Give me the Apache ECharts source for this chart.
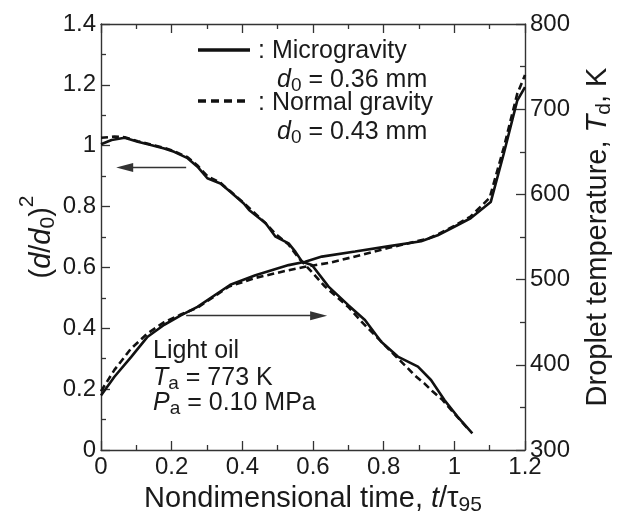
<!DOCTYPE html>
<html><head><meta charset="utf-8">
<script src="https://cdn.jsdelivr.net/npm/echarts@6/dist/echarts.min.js"></script>
<style>html,body{margin:0;padding:0;background:#fff}#c{width:623px;height:524px}</style>
</head><body><div id="c"></div>
<script>
// ---- data ----
const tDiamMicro = [0,0.03,0.067,0.104,0.141,0.179,0.207,0.245,0.273,0.301,0.338,0.366,0.404,0.419,0.466,0.494,0.531,0.55,0.569,0.597,0.644,0.7,0.747,0.793,0.84,0.897,0.934,0.972,1.009,1.051];
const diamMicro  = [1.005,1.019,1.026,1.013,1.002,0.991,0.98,0.959,0.931,0.893,0.876,0.849,0.81,0.789,0.745,0.701,0.679,0.652,0.619,0.608,0.537,0.476,0.427,0.356,0.307,0.274,0.23,0.164,0.11,0.055];
const tDiamNormal = [0,0.038,0.067,0.104,0.141,0.179,0.207,0.245,0.273,0.301,0.338,0.366,0.404,0.466,0.494,0.531,0.56,0.587,0.634,0.7,0.742,0.79,0.84,0.864,0.887,0.915,0.939,0.967,1.0,1.037];
const diamNormal  = [1.026,1.03,1.028,1.015,1.004,0.993,0.982,0.962,0.935,0.9,0.878,0.85,0.812,0.745,0.71,0.675,0.63,0.597,0.537,0.47,0.416,0.36,0.301,0.274,0.246,0.219,0.192,0.164,0.12,0.072];
const tTempMicro = [0,0.038,0.085,0.132,0.179,0.226,0.273,0.366,0.437,0.531,0.578,0.625,0.719,0.812,0.906,0.953,1.0,1.046,1.103,1.14,1.178,1.2];
const tempMicro  = [364,386,409,433,447,458,468,494,505,517,521,527,533,539,545,552,562,572,591,648,710,726];
const tTempNormal = [0,0.038,0.085,0.132,0.179,0.226,0.273,0.363,0.437,0.531,0.578,0.65,0.737,0.812,0.925,0.953,1.0,1.046,1.1,1.14,1.178,1.2];
const tempNormal  = [369,394,419,437,450,459,467,492,502,511,515,520,529,537,548,553,563,574,596,655,718,740];
// arrows: [tail t, head t, level]
const arrowDiam = [0.241, 0.067, 0.928];
const arrowTemp = [0.241, 0.616, 457.6];
// axis ranges / ticks
const xRange = [0, 1.2, 0.2];
const yLeftRange = [0, 1.4, 0.2];
const yRightRange = [300, 800, 100];

const FF = '"Liberation Sans", Arial, Helvetica, sans-serif';
const TXT = '#1a1a1a';
const zip = (a, b) => a.map((v, i) => [v, b[i]]);

// rich text styles (zrender-style for graphic)
const gRich = {
  n: {fontSize: 25, fontFamily: FF, fill: TXT},
  i: {fontSize: 25, fontFamily: FF, fill: TXT, fontStyle: 'italic'},
  s: {fontSize: 19, fontFamily: FF, fill: TXT, padding: [12, 0, 0, 0]}
};
// ECharts-style rich for axis names
const aRich = {
  n: {fontSize: 29, fontFamily: FF, color: TXT},
  i: {fontSize: 29, fontFamily: FF, color: TXT, fontStyle: 'italic'},
  s: {fontSize: 21, fontFamily: FF, color: TXT, padding: [13, 0, 0, 0]},
  p: {fontSize: 21, fontFamily: FF, color: TXT, padding: [0, 0, 28, 0]}
};

const axisLine = {show: true, onZero: false, lineStyle: {color: '#333', width: 1.4}};
const tick = {show: true, inside: true, length: 9, lineStyle: {color: '#333', width: 1.3}};
const minor = {show: true, splitNumber: 2, length: 5, lineStyle: {color: '#333', width: 1.3}};
const lbl = {fontSize: 24, fontFamily: FF, color: TXT};

const chart = echarts.init(document.getElementById('c'), null, {renderer: 'canvas'});
const markStyle = {color: '#333', width: 1.3, type: 'solid'};
chart.setOption({
  animation: false,
  backgroundColor: '#fff',
  grid: {left: 101, right: 95, top: 24, bottom: 74},
  xAxis: [
    {type: 'value', min: xRange[0], max: xRange[1], interval: xRange[2], position: 'bottom',
     axisLine, axisTick: tick, minorTick: minor, splitLine: {show: false},
     axisLabel: Object.assign({margin: 5}, lbl),
     name: '{n|Nondimensional time, }{i|t}{n|/τ}{s|95}', nameLocation: 'middle', nameGap: 32,
     nameTextStyle: {rich: aRich}},
    {type: 'value', min: xRange[0], max: xRange[1], interval: xRange[2], position: 'top',
     axisLine, axisTick: tick, minorTick: minor, splitLine: {show: false}, axisLabel: {show: false}}
  ],
  yAxis: [
    {type: 'value', min: yLeftRange[0], max: yLeftRange[1], interval: yLeftRange[2], position: 'left',
     axisLine, axisTick: tick, minorTick: minor, splitLine: {show: false},
     axisLabel: Object.assign({margin: 5}, lbl),
     name: '{n|(}{i|d}{n|/}{i|d}{s|0}{n|)}{p|2}', nameLocation: 'middle', nameGap: 35, nameRotate: 90,
     nameMoveOverlap: false,
     nameTextStyle: {rich: aRich}},
    {type: 'value', min: yRightRange[0], max: yRightRange[1], interval: yRightRange[2], position: 'right',
     axisLine, axisTick: tick, minorTick: minor, splitLine: {show: false},
     axisLabel: Object.assign({margin: 5}, lbl),
     name: '{n|Droplet temperature, }{i|T}{s|d}{n|, K}', nameLocation: 'middle', nameGap: 56, nameRotate: 90,
     nameTextStyle: {rich: aRich}}
  ],
  series: [
    {type: 'line', xAxisIndex: 0, yAxisIndex: 0, data: zip(tDiamMicro, diamMicro), showSymbol: false,
     lineStyle: {color: '#111', width: 2.6}, z: 3,
     markLine: {silent: true, symbol: ['none', 'triangle'], symbolSize: [9, 17], label: {show: false},
       lineStyle: markStyle, emphasis: {disabled: true},
       data: [[{coord: [arrowDiam[0], arrowDiam[2]]}, {coord: [arrowDiam[1], arrowDiam[2]]}]]}},
    {type: 'line', xAxisIndex: 0, yAxisIndex: 0, data: zip(tDiamNormal, diamNormal), showSymbol: false,
     lineStyle: {color: '#111', width: 2.6, type: [7, 4]}, z: 2},
    {type: 'line', xAxisIndex: 0, yAxisIndex: 1, data: zip(tTempMicro, tempMicro), showSymbol: false,
     lineStyle: {color: '#111', width: 2.6}, z: 3,
     markLine: {silent: true, symbol: ['none', 'triangle'], symbolSize: [9, 17], label: {show: false},
       lineStyle: markStyle, emphasis: {disabled: true},
       data: [[{coord: [arrowTemp[0], arrowTemp[2]]}, {coord: [arrowTemp[1], arrowTemp[2]]}]]}},
    {type: 'line', xAxisIndex: 0, yAxisIndex: 1, data: zip(tTempNormal, tempNormal), showSymbol: false,
     lineStyle: {color: '#111', width: 2.6, type: [7, 4]}, z: 2}
  ],
  graphic: [
    {type: 'line', shape: {x1: 198, y1: 50, x2: 250, y2: 50}, style: {stroke: '#111', lineWidth: 3.5}},
    {type: 'line', shape: {x1: 198, y1: 101, x2: 250, y2: 101}, style: {stroke: '#111', lineWidth: 3.5, lineDash: [8, 5]}},
    {type: 'text', x: 258, y: 51, style: {text: '{n|: Microgravity}', rich: gRich, verticalAlign: 'middle'}},
    {type: 'text', x: 277, y: 80, style: {text: '{i|d}{s|0}{n| = 0.36 mm}', rich: gRich, verticalAlign: 'middle'}},
    {type: 'text', x: 258, y: 103, style: {text: '{n|: Normal gravity}', rich: gRich, verticalAlign: 'middle'}},
    {type: 'text', x: 277, y: 132, style: {text: '{i|d}{s|0}{n| = 0.43 mm}', rich: gRich, verticalAlign: 'middle'}},
    {type: 'text', x: 153, y: 351, style: {text: '{n|Light oil}', rich: gRich, verticalAlign: 'middle'}},
    {type: 'text', x: 153, y: 378, style: {text: '{i|T}{s|a}{n| = 773 K}', rich: gRich, verticalAlign: 'middle'}},
    {type: 'text', x: 153, y: 403, style: {text: '{i|P}{s|a}{n| = 0.10 MPa}', rich: gRich, verticalAlign: 'middle'}}
  ]
});
</script></body></html>
